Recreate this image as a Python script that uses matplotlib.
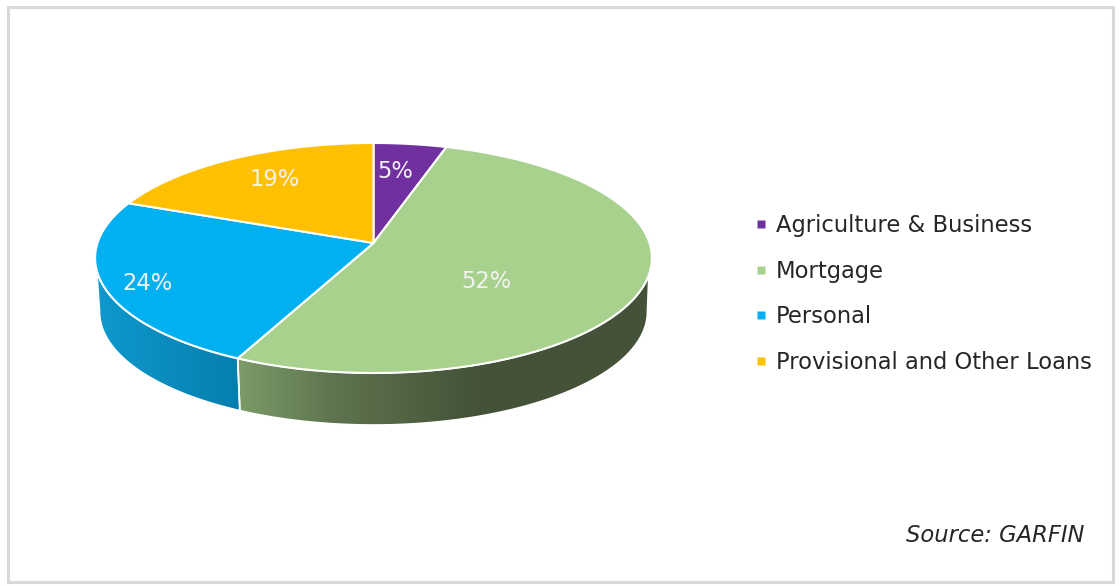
import numpy as np
import matplotlib
matplotlib.use("Agg")
import matplotlib.pyplot as plt
from matplotlib.patches import Polygon, Rectangle
from matplotlib.lines import Line2D
from matplotlib.colors import to_rgb

categories = ["Agriculture & Business", "Mortgage", "Personal", "Provisional and Other Loans"]
shares = [4.8, 52.35, 23.85, 19.0]
colors = ["#7030A0", "#A9D18E", "#00B0F0", "#FFC000"]
label_xy = [(395, 171), (486, 282), (147, 283), (275, 179)]
source = "Source: GARFIN"

plt.rcParams["font.family"] = ["DejaVu Sans"]
fig = plt.figure(figsize=(11.2, 5.86), dpi=100)
ax = fig.add_axes([0, 0, 1, 1])
ax.set_xlim(0, 1120)
ax.set_ylim(586, 0)
ax.axis("off")

ax.add_patch(Rectangle((7.5, 6.5), 1105.5, 575.5, fc="white", ec="#D9D9D9", lw=2.2, zorder=0))

AX, AY = 373.5, 243.0
K, B, C = 0.1304, 113.04, 276.0

def rim(deg, drop=0.0, scale=1.0):
    t = np.radians(deg)
    u, v = np.sin(t), np.cos(t)
    d = 1 + K * v
    return AX + scale * C * u / d, AY + drop - scale * B * v / d

edges = np.concatenate([[0], np.cumsum(shares)]) * 3.6

# Side wall
VIS_R, VIS_L = 105.8, 256.5
VIS_RB, VIS_LB = 97.5, 262.5
DROP, SCALE = 54.1, 0.984

def side(a, b, stops):
    xt, yt = rim(np.linspace(max(a, VIS_R), min(b, VIS_L), 120))
    xb, yb = rim(np.linspace(max(a, VIS_RB), min(b, VIS_LB), 120), DROP, SCALE)
    pts = np.vstack([np.c_[xt, yt], np.c_[xb, yb][::-1]])
    poly = Polygon(pts, closed=True, fc="none", ec="none")
    ax.add_patch(poly)
    xs = np.linspace(pts[:, 0].min(), pts[:, 0].max(), 256)
    grad = np.stack([np.interp(xs, [s[0] for s in stops], [to_rgb(s[1])[i] for s in stops]) for i in range(3)], -1)[None, :, :]
    im = ax.imshow(grad, extent=(xs[0], xs[-1], pts[:, 1].max(), pts[:, 1].min()), aspect="auto", zorder=1, interpolation="bilinear")
    im.set_clip_path(poly)
    outline = Polygon(pts, closed=True, fc="none", ec="white", lw=1.2, zorder=1.5)
    ax.add_patch(outline)

side(edges[1], edges[2], [(238, "#7C9B68"), (330, "#5F7550"), (478, "#435238"), (660, "#435238")])
side(edges[2], edges[3], [(95, "#0E99CE"), (240, "#057FAD")])
ax.set_xlim(0, 1120)
ax.set_ylim(586, 0)

# Top face
for i in range(len(shares)):
    th = np.linspace(edges[i], edges[i + 1], 200)
    x, y = rim(th)
    pts = np.vstack([[AX, AY], np.c_[x, y]])
    ax.add_patch(Polygon(pts, closed=True, fc=colors[i], ec="white", lw=1.5, joinstyle="miter", zorder=2))

for s, (lx, ly) in zip(shares, label_xy):
    ax.text(lx, ly, f"{round(s)}%", color="#F2F2F2", fontsize=16.3, ha="center", va="center", zorder=3)

handles = [Line2D([], [], ls="none", marker="s", ms=5.6, color=c, mec="none") for c in colors]
ax.legend(handles, categories, loc="upper left", bbox_to_anchor=(751, 214), bbox_transform=ax.transData,
          frameon=False, fontsize=16.3, labelcolor="#262626", handlelength=0.9, handletextpad=0.2,
          labelspacing=1.0, borderpad=0, borderaxespad=0)

ax.text(1084, 536, source, color="#262626", fontsize=16.3, style="italic", ha="right", va="center")

fig.savefig("out.png", dpi=100)
